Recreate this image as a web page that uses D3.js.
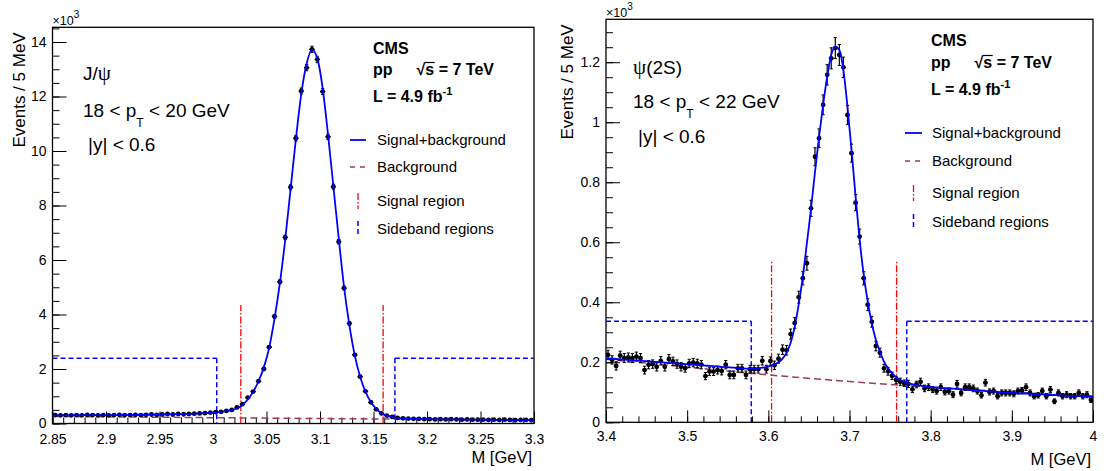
<!DOCTYPE html>
<html><head><meta charset="utf-8">
<script src="https://cdn.jsdelivr.net/npm/d3@7"></script>
<style>
html,body{margin:0;padding:0;background:#fff;}
svg{display:block;}
</style></head><body>
<svg id="chart" width="1104" height="471"></svg>
<script>
// ================= DATA =================
// J/psi panel (values in units of 10^3 events per 5 MeV)
const jpsiMassRange = [2.85, 3.30];
const jpsiBinWidth = 0.005;
const jpsiCounts = [
  0.31,0.30,0.31,0.30,0.31,0.30,0.32,0.31,0.30,0.31,
  0.30,0.31,0.32,0.31,0.31,0.32,0.31,0.32,0.33,0.32,
  0.33,0.35,0.33,0.35,0.34,0.35,0.36,0.37,0.38,0.40,
  0.42,0.43,0.46,0.50,0.59,0.71,0.95,1.17,1.55,2.00,
  2.80,3.93,5.20,6.83,8.67,10.47,12.20,13.06,13.73,13.36,
  12.18,10.52,8.69,6.67,4.97,3.67,2.52,1.72,1.18,0.78,
  0.52,0.37,0.29,0.24,0.21,0.19,0.18,0.17,0.17,0.16,
  0.16,0.15,0.16,0.15,0.16,0.15,0.14,0.15,0.14,0.14,
  0.14,0.13,0.14,0.13,0.14,0.13,0.12,0.13,0.13,0.12];
const jpsiErrors = [
  0.018,0.018,0.018,0.018,0.018,0.018,0.018,0.018,0.018,0.018,
  0.018,0.018,0.018,0.018,0.018,0.018,0.018,0.018,0.018,0.018,
  0.018,0.019,0.018,0.019,0.018,0.019,0.019,0.019,0.019,0.020,
  0.020,0.021,0.021,0.022,0.024,0.027,0.031,0.034,0.039,0.045,
  0.053,0.063,0.072,0.083,0.093,0.102,0.110,0.114,0.117,0.116,
  0.110,0.103,0.093,0.082,0.070,0.061,0.050,0.041,0.034,0.028,
  0.023,0.019,0.017,0.015,0.014,0.014,0.013,0.013,0.013,0.013,
  0.012,0.012,0.012,0.012,0.012,0.012,0.012,0.012,0.012,0.012,
  0.012,0.012,0.012,0.012,0.012,0.012,0.011,0.012,0.012,0.011];
const jpsiFit = [
  0.300,0.300,0.301,0.302,0.303,0.304,0.305,0.306,0.307,0.308,
  0.309,0.310,0.312,0.314,0.316,0.318,0.320,0.322,0.325,0.328,
  0.331,0.335,0.339,0.343,0.348,0.354,0.361,0.369,0.379,0.392,
  0.408,0.428,0.455,0.495,0.560,0.680,0.880,1.160,1.550,2.060,
  2.780,3.850,5.150,6.750,8.600,10.450,12.100,13.200,13.720,13.400,
  12.300,10.600,8.700,6.800,5.000,3.600,2.500,1.720,1.170,0.790,
  0.540,0.380,0.290,0.235,0.205,0.190,0.180,0.172,0.167,0.163,
  0.160,0.157,0.155,0.153,0.151,0.149,0.147,0.145,0.143,0.141,
  0.139,0.137,0.135,0.133,0.131,0.129,0.127,0.125,0.123,0.121];
const jpsiBackgroundMass = [2.85, 3.30];
const jpsiBackground = [0.26, 0.12];
const jpsiSignalRegion = [3.026, 3.159];
const jpsiSignalLineTop = 4.35;
const jpsiSidebands = [[2.85, 3.0035], [3.170, 3.30]];
const jpsiSidebandLevel = 2.39;
const jpsiXTickLabels = ["2.85","2.9","2.95","3","3.05","3.1","3.15","3.2","3.25","3.3"];
const jpsiYTickLabels = ["0","2","4","6","8","10","12","14"];
const jpsiYMax = 14.54;

// psi(2S) panel (values in units of 10^3 events per 5 MeV)
const psiMassRange = [3.40, 4.00];
const psiBinWidth = 0.005;
const psiCounts = [
  0.225,0.208,0.188,0.222,0.214,0.216,0.214,0.219,0.214,0.174,
  0.192,0.194,0.185,0.205,0.185,0.211,0.203,0.194,0.185,0.180,
  0.196,0.199,0.196,0.192,0.154,0.169,0.169,0.174,0.171,0.192,
  0.158,0.158,0.180,0.180,0.158,0.177,0.177,0.177,0.205,0.177,
  0.204,0.190,0.212,0.242,0.240,0.294,0.331,0.417,0.480,0.530,
  0.713,0.885,0.947,1.058,1.158,1.213,1.247,1.224,1.183,1.024,
  0.897,0.732,0.619,0.480,0.392,0.335,0.254,0.232,0.180,0.170,
  0.155,0.141,0.135,0.130,0.128,0.110,0.126,0.135,0.113,0.117,
  0.109,0.104,0.117,0.101,0.104,0.092,0.128,0.098,0.117,0.117,
  0.113,0.104,0.090,0.132,0.101,0.104,0.087,0.098,0.098,0.098,
  0.095,0.104,0.106,0.117,0.098,0.087,0.090,0.104,0.087,0.109,
  0.070,0.098,0.087,0.092,0.087,0.087,0.098,0.087,0.092,0.075];
const psiErrors = [
  0.015,0.014,0.014,0.015,0.015,0.015,0.015,0.015,0.015,0.013,
  0.014,0.014,0.014,0.014,0.014,0.015,0.014,0.014,0.014,0.013,
  0.014,0.014,0.014,0.014,0.012,0.013,0.013,0.013,0.013,0.014,
  0.013,0.013,0.013,0.013,0.013,0.013,0.013,0.013,0.014,0.013,
  0.014,0.014,0.015,0.016,0.016,0.017,0.018,0.020,0.022,0.023,
  0.027,0.030,0.031,0.033,0.034,0.035,0.035,0.035,0.034,0.032,
  0.030,0.027,0.025,0.022,0.020,0.018,0.016,0.015,0.013,0.013,
  0.012,0.012,0.012,0.011,0.012,0.011,0.011,0.012,0.011,0.011,
  0.010,0.010,0.011,0.010,0.010,0.010,0.011,0.010,0.011,0.011,
  0.011,0.010,0.009,0.011,0.010,0.010,0.009,0.010,0.010,0.010,
  0.010,0.010,0.010,0.011,0.010,0.009,0.009,0.010,0.009,0.010,
  0.008,0.010,0.009,0.010,0.009,0.009,0.010,0.009,0.010,0.009];
const psiFit = [
  0.213,0.212,0.211,0.210,0.209,0.208,0.207,0.206,0.205,0.204,
  0.203,0.202,0.201,0.200,0.199,0.198,0.197,0.196,0.195,0.194,
  0.193,0.192,0.191,0.190,0.189,0.188,0.187,0.186,0.185,0.184,
  0.183,0.182,0.181,0.180,0.179,0.179,0.179,0.180,0.182,0.184,
  0.188,0.193,0.200,0.212,0.232,0.265,0.318,0.395,0.485,0.597,
  0.710,0.835,0.952,1.058,1.152,1.224,1.252,1.241,1.174,1.052,
  0.908,0.752,0.608,0.491,0.402,0.330,0.274,0.235,0.202,0.180,
  0.163,0.150,0.141,0.135,0.130,0.127,0.124,0.122,0.120,0.118,
  0.117,0.116,0.115,0.114,0.113,0.112,0.111,0.110,0.109,0.108,
  0.107,0.106,0.105,0.104,0.103,0.102,0.101,0.100,0.099,0.099,
  0.098,0.097,0.096,0.096,0.095,0.094,0.093,0.093,0.092,0.091,
  0.091,0.090,0.089,0.089,0.088,0.088,0.087,0.087,0.086,0.086];
const psiBackgroundMass = [3.4, 3.5, 3.6, 3.7, 3.8, 3.9, 4.0];
const psiBackground = [0.210, 0.184, 0.158, 0.136, 0.117, 0.101, 0.087];
const psiSignalRegion = [3.604, 3.758];
const psiSignalLineTop = 0.535;
const psiSidebands = [[3.40, 3.579], [3.7705, 4.00]];
const psiSidebandLevel = 0.337;
const psiXTickLabels = ["3.4","3.5","3.6","3.7","3.8","3.9","4"];
const psiYTickLabels = ["0","0.2","0.4","0.6","0.8","1","1.2"];
const psiYMax = 1.343;

const legendLabels = ["Signal+background", "Background", "Signal region", "Sideband regions"];

// ================= DRAWING =================
const FONT = '"Liberation Sans", Arial, Helvetica, sans-serif';
const C_FIT = "#0000ff", C_BKG = "#9b3a62", C_SIG = "#ff0000", C_SB = "#0000ff";
const svg = d3.select("#chart").attr("font-family", FONT);

function drawPanel(p) {
  const b = p.box;
  const x = d3.scaleLinear().domain(p.xDomain).range([b.left, b.right]);
  const y = d3.scaleLinear().domain([0, p.yMax]).range([b.bottom, b.top]);
  const g = svg.append("g");
  const clipId = "clip-" + p.id;
  g.append("clipPath").attr("id", clipId).append("rect")
    .attr("x", b.left).attr("y", b.top).attr("width", b.right - b.left).attr("height", b.bottom - b.top);

  // ---- axes ----
  const nxMinor = Math.round((p.xDomain[1] - p.xDomain[0]) / p.xMinorStep);
  const xMinor = d3.range(nxMinor + 1).map(i => p.xDomain[0] + i * p.xMinorStep);
  const yMinor = d3.range(Math.floor(p.yMax / p.yMinorStep + 1e-9) + 1).map(i => i * p.yMinorStep);
  const axG = g.append("g");
  axG.append("g").attr("transform", `translate(0,${b.bottom})`)
    .call(d3.axisBottom(x).tickValues(xMinor).tickFormat("").tickSizeInner(-6).tickSizeOuter(0));
  axG.append("g").attr("transform", `translate(${b.left},0)`)
    .call(d3.axisLeft(y).tickValues(yMinor).tickFormat("").tickSizeInner(-7).tickSizeOuter(0));
  axG.append("g").attr("transform", `translate(0,${b.bottom})`)
    .call(d3.axisBottom(x).tickValues(p.xTickLabels.map(Number))
      .tickFormat((d, i) => p.xTickLabels[i]).tickSizeInner(-12).tickSizeOuter(0).tickPadding(p.xLabelPad));
  axG.append("g").attr("transform", `translate(${b.left},0)`)
    .call(d3.axisLeft(y).tickValues(p.yTickLabels.map(Number))
      .tickFormat((d, i) => p.yTickLabels[i]).tickSizeInner(-14).tickSizeOuter(0).tickPadding(6));
  axG.selectAll(".domain").remove();
  axG.selectAll("g").attr("font-family", FONT).attr("font-size", 14);
  axG.selectAll(".tick line").attr("stroke", "#000").attr("stroke-width", 1);
  axG.selectAll(".tick text").attr("fill", "#000");

  // ---- frame ----
  g.append("rect").attr("x", b.left).attr("y", b.top)
    .attr("width", b.right - b.left).attr("height", b.bottom - b.top)
    .attr("fill", "none").attr("stroke", "#000").attr("stroke-width", 1.3);

  const plot = g.append("g").attr("clip-path", `url(#${clipId})`);

  // ---- sideband regions ----
  p.sidebands.forEach((sb, i) => {
    const inner = i === 0 ? sb[1] : sb[0];
    const path = d3.path();
    path.moveTo(x(sb[0]), y(p.sidebandLevel));
    path.lineTo(x(sb[1]), y(p.sidebandLevel));
    const pv = d3.path();
    pv.moveTo(x(inner), y(p.sidebandLevel));
    pv.lineTo(x(inner), y(0));
    [path, pv].forEach(pp => plot.append("path").attr("d", pp.toString())
      .attr("fill", "none").attr("stroke", C_SB).attr("stroke-width", 1.5).attr("stroke-dasharray", "5,3"));
  });
  // ---- signal region ----
  p.signalRegion.forEach(m => {
    plot.append("line").attr("x1", x(m)).attr("x2", x(m))
      .attr("y1", y(0)).attr("y2", y(p.signalTop))
      .attr("stroke", C_SIG).attr("stroke-width", 1.3).attr("stroke-dasharray", "7,2,1.5,2");
  });

  // ---- background ----
  const bgPts = p.bgMass.map((m, i) => [m, p.bg[i]]);
  plot.append("path").datum(bgPts)
    .attr("d", d3.line().x(d => x(d[0])).y(d => y(d[1])).curve(d3.curveMonotoneX))
    .attr("fill", "none").attr("stroke", C_BKG).attr("stroke-width", 1.5).attr("stroke-dasharray", "7,4");

  // ---- data points ----
  const centers = p.counts.map((_, i) => p.xDomain[0] + p.binWidth * (i + 0.5));
  const pts = p.counts.map((v, i) => ({ m: centers[i], v: v, e: p.errors[i] }));
  const pg = plot.append("g");
  const sel = pg.selectAll("g.pt").data(pts).join("g").attr("class", "pt");
  sel.append("line").attr("x1", d => x(d.m)).attr("x2", d => x(d.m))
    .attr("y1", d => y(d.v - d.e)).attr("y2", d => y(d.v + d.e)).attr("stroke", "#000").attr("stroke-width", 1.2);
  sel.append("line").attr("x1", d => x(d.m) - 1.6).attr("x2", d => x(d.m) + 1.6)
    .attr("y1", d => y(d.v + d.e)).attr("y2", d => y(d.v + d.e)).attr("stroke", "#000").attr("stroke-width", 1);
  sel.append("line").attr("x1", d => x(d.m) - 1.6).attr("x2", d => x(d.m) + 1.6)
    .attr("y1", d => y(d.v - d.e)).attr("y2", d => y(d.v - d.e)).attr("stroke", "#000").attr("stroke-width", 1);
  sel.append("line").attr("x1", d => x(d.m - p.binWidth / 2)).attr("x2", d => x(d.m + p.binWidth / 2))
    .attr("y1", d => y(d.v)).attr("y2", d => y(d.v)).attr("stroke", "#000").attr("stroke-width", 1.2);
  sel.append("circle").attr("cx", d => x(d.m)).attr("cy", d => y(d.v)).attr("r", 2.4).attr("fill", "#000");

  // ---- fit curve ----
  const fitPts = [[p.xDomain[0], p.fit[0]]]
    .concat(p.fit.map((v, i) => [centers[i], v]))
    .concat([[p.xDomain[1], p.fit[p.fit.length - 1]]]);
  plot.append("path").datum(fitPts)
    .attr("d", d3.line().x(d => x(d[0])).y(d => y(d[1])).curve(d3.curveMonotoneX))
    .attr("fill", "none").attr("stroke", C_FIT).attr("stroke-width", 1.8);

  // ---- axis titles ----
  g.append("text").attr("x", b.right - 2).attr("y", p.xTitleY).attr("text-anchor", "end")
    .attr("font-size", 16.5).text("M [GeV]");
  g.append("text").attr("transform", `translate(${p.yTitleX},${b.top + 5}) rotate(-90)`)
    .attr("text-anchor", "end").attr("font-size", 17).text("Events / 5 MeV");
  const ex = g.append("text").attr("x", b.left).attr("y", b.top - 2).attr("font-size", 12.5);
  ex.append("tspan").text("×10");
  ex.append("tspan").attr("dy", -7).attr("font-size", 10).text("3");

  // ---- physics annotations ----
  const t1 = g.append("text").attr("x", p.annX).attr("y", p.annY[0]).attr("font-size", 19);
  p.titleParts.forEach(tp => t1.append("tspan").attr("font-family", tp.serif ? '"Liberation Serif", "DejaVu Serif", serif' : null)
    .attr("font-size", tp.serif ? 21 : null).text(tp.t));
  const t2 = g.append("text").attr("x", p.annX).attr("y", p.annY[1]).attr("font-size", 19);
  t2.append("tspan").text("18 < p");
  t2.append("tspan").attr("dy", 10).attr("font-size", 12).text("T");
  t2.append("tspan").attr("dy", -10).text(" < " + p.ptMax + " GeV");
  g.append("text").attr("x", p.annX + 5).attr("y", p.annY[2]).attr("font-size", 19).text("|y| < 0.6");

  // ---- CMS header ----
  const hx = p.cmsX;
  g.append("text").attr("x", hx).attr("y", p.cmsY[0]).attr("font-size", 16).attr("font-weight", "bold").text("CMS");
  const h2 = g.append("text").attr("x", hx).attr("y", p.cmsY[1]).attr("font-size", 16).attr("font-weight", "bold");
  h2.append("tspan").text("pp");
  h2.append("tspan").attr("dx", 24).text("√");
  h2.append("tspan").text("s");
  h2.append("tspan").text(" = 7 TeV");
  // overline of the square root over "s"
  const node = h2.node();
  let sStart = hx + 24 + 30, sLen = 9;
  try { sStart = hx + 24 + node.getSubStringLength(0, 3); sLen = node.getSubStringLength(3, 1); } catch (e) {}
  g.append("line").attr("x1", sStart - 0.5).attr("x2", sStart + sLen + 0.5)
    .attr("y1", p.cmsY[1] - 12.5).attr("y2", p.cmsY[1] - 12.5).attr("stroke", "#000").attr("stroke-width", 1.2);
  const h3 = g.append("text").attr("x", hx).attr("y", p.cmsY[2]).attr("font-size", 16).attr("font-weight", "bold");
  h3.append("tspan").text("L = 4.9 fb");
  h3.append("tspan").attr("dy", -7).attr("font-size", 11).text("-1");

  // ---- legend ----
  const lg = g.append("g");
  const ly = p.legendY;
  lg.append("line").attr("x1", p.legSym[0]).attr("x2", p.legSym[1]).attr("y1", ly[0] - 5).attr("y2", ly[0] - 5)
    .attr("stroke", C_FIT).attr("stroke-width", 1.8);
  lg.append("line").attr("x1", p.legSym[0]).attr("x2", p.legSym[1]).attr("y1", ly[1] - 5).attr("y2", ly[1] - 5)
    .attr("stroke", C_BKG).attr("stroke-width", 1.5).attr("stroke-dasharray", "5,5");
  const vx = (p.legSym[0] + p.legSym[1]) / 2;
  lg.append("line").attr("x1", vx).attr("x2", vx).attr("y1", ly[2] - 13).attr("y2", ly[2] + 3)
    .attr("stroke", C_SIG).attr("stroke-width", 1.3).attr("stroke-dasharray", "7,2,1.5,2");
  lg.append("line").attr("x1", vx).attr("x2", vx).attr("y1", ly[3] - 13).attr("y2", ly[3] + 3)
    .attr("stroke", C_SB).attr("stroke-width", 1.5).attr("stroke-dasharray", "5,3");
  legendLabels.forEach((t, i) => lg.append("text").attr("x", p.legTextX).attr("y", ly[i]).attr("font-size", 15).text(t));
}

drawPanel({
  id: "jpsi", box: { left: 52.5, right: 534, top: 27.3, bottom: 423.5 },
  xDomain: jpsiMassRange, yMax: jpsiYMax, binWidth: jpsiBinWidth,
  xMinorStep: 0.01, yMinorStep: 0.5, xLabelPad: 11,
  xTickLabels: jpsiXTickLabels, yTickLabels: jpsiYTickLabels,
  counts: jpsiCounts, errors: jpsiErrors, fit: jpsiFit,
  bgMass: jpsiBackgroundMass, bg: jpsiBackground,
  signalRegion: jpsiSignalRegion, signalTop: jpsiSignalLineTop,
  sidebands: jpsiSidebands, sidebandLevel: jpsiSidebandLevel,
  xTitleY: 463, yTitleX: 24.5,
  annX: 83, annY: [80, 117, 151], titleParts: [{ t: "J/" }, { t: "ψ", serif: true }], ptMax: 20,
  cmsX: 373, cmsY: [54, 75, 102],
  legSym: [350, 366], legTextX: 377, legendY: [145, 172, 206, 234]
});
drawPanel({
  id: "psi", box: { left: 606, right: 1093, top: 19.3, bottom: 422.3 },
  xDomain: psiMassRange, yMax: psiYMax, binWidth: psiBinWidth,
  xMinorStep: 0.02, yMinorStep: 0.05, xLabelPad: 9,
  xTickLabels: psiXTickLabels, yTickLabels: psiYTickLabels,
  counts: psiCounts, errors: psiErrors, fit: psiFit,
  bgMass: psiBackgroundMass, bg: psiBackground,
  signalRegion: psiSignalRegion, signalTop: psiSignalLineTop,
  sidebands: psiSidebands, sidebandLevel: psiSidebandLevel,
  xTitleY: 465, yTitleX: 572.5,
  annX: 633, annY: [74, 108, 143], titleParts: [{ t: "ψ", serif: true }, { t: "(2S)" }], ptMax: 22,
  cmsX: 931, cmsY: [46, 68, 95],
  legSym: [905, 922], legTextX: 932, legendY: [138, 166, 198, 227]
});
</script>
</body></html>
